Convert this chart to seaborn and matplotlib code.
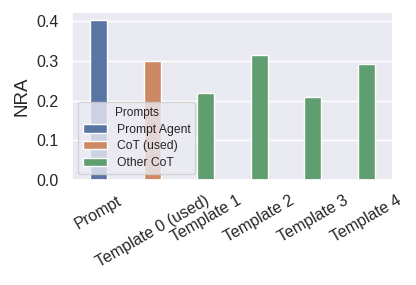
import matplotlib
matplotlib.use("Agg")
import matplotlib.pyplot as plt
import seaborn as sns
import pandas as pd

# values
categories = ["Prompt", "Template 0 (used)", "Template 1", "Template 2", "Template 3", "Template 4"]
nra = [0.403, 0.300, 0.219, 0.314, 0.208, 0.291]
groups = ["Prompt Agent", "CoT (used)", "Other CoT", "Other CoT", "Other CoT", "Other CoT"]

sns.set_theme(style="darkgrid", palette="deep")
plt.rcParams["font.family"] = ["Liberation Sans", "DejaVu Sans"]

df = pd.DataFrame({"Template": categories, "NRA": nra, "Prompts": groups})

fig, ax = plt.subplots(figsize=(4.16, 2.85), dpi=100)
sns.barplot(data=df, x="Template", y="NRA", hue="Prompts", dodge=False,
            width=0.32, ax=ax)

ax.set_xlabel("")
ax.set_ylabel("NRA", fontsize=13.5)
ax.set_yticks([0.0, 0.1, 0.2, 0.3, 0.4])
ax.tick_params(axis="y", labelsize=11.5)
ax.tick_params(axis="x", labelsize=11.5)
plt.setp(ax.get_xticklabels(), rotation=30, ha="center")

ax.legend(title="Prompts", loc="lower left", fontsize=8.7, title_fontsize=8.5,
          labelspacing=0.4)

fig.subplots_adjust(left=0.173, right=0.945, bottom=0.368, top=0.958)
fig.savefig("out.png", dpi=100)
